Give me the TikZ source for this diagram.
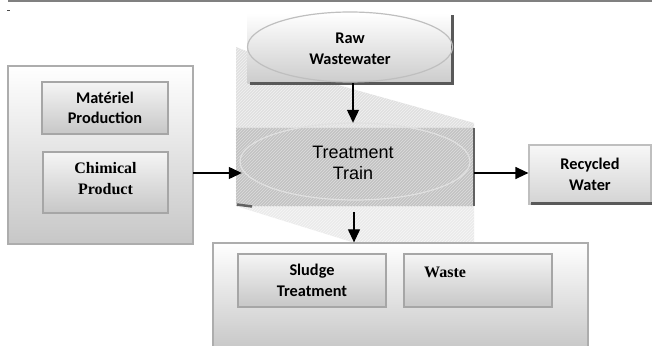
\documentclass[tikz,border=0pt]{standalone}
\usepackage{fontspec}
\setmainfont{Liberation Serif}
\newfontfamily\calbfont{Carlito Bold}
\newfontfamily\arifont{Liberation Sans}
\usetikzlibrary{arrows.meta,patterns}
\tikzset{
  outerbox/.style={draw=black!32, line width=1.3pt, top color=white, bottom color=black!22, inner sep=0pt},
  innerbox/.style={draw=black!35, line width=1.3pt, top color=black!4, bottom color=black!22, inner sep=0pt, align=center},
  calb/.style={font=\calbfont\fontsize{16.3}{20.5}\selectfont},
  timb/.style={font=\bfseries\fontsize{16}{21}\selectfont},
  arib/.style={font=\arifont\fontsize{18}{21.5}\selectfont},
  flow/.style={line width=1.2pt, -{Triangle[length=13pt,width=12pt]}},
  shadowline/.style={draw=black!65, line width=3pt},
}
\begin{document}
\begin{tikzpicture}[x=1pt,y=-1pt]
\useasboundingbox (0,0) rectangle (652,345);
% top rule and dot
\draw[black!50, line width=1.5pt] (8,1) -- (652,1);
\fill[black!70] (7,10) rectangle (9.5,11.5);

% treatment train shape
\fill[black!12] (236,47) -- (320,80) -- (474,123) -- (474,128) -- (236,128) -- cycle;
\fill[pattern=north east lines, pattern color=black!5] (236,47) -- (320,80) -- (474,123) -- (474,128) -- (236,128) -- cycle;
\fill[black!8] (236,206) -- (474,206) -- (474,243) -- (355,243) -- cycle;
\fill[pattern=north east lines, pattern color=black!3] (236,206) -- (474,206) -- (474,243) -- (355,243) -- cycle;
\node[rectangle, minimum width=238pt, minimum height=78pt, inner sep=0pt, fill=black!24] (tt) at (355,167) {};
\fill[pattern=north east lines, pattern color=black!13] (tt.north west) rectangle (tt.south east);
\draw[black!12, line width=1.2pt] (355,161.5) ellipse [x radius=115, y radius=38.5];
\node[arib, align=center] (tttext) at (353,163) {Treatment\\Train};
\draw[black!62, line width=1.5pt] (tt.north east) -- (tt.south east);
\draw[black!62, line width=2.5pt] (237,204.5) -- (252,206.5);

% raw wastewater
\node[rectangle, minimum width=205pt, minimum height=70pt, inner sep=0pt, top color=white, bottom color=black!20] (raw) at (350,48) {};
\draw[shadowline] (250,83.5) -- (452.5,83.5) -- (452.5,15);
\draw[black!25, line width=1.2pt] (350,47) ellipse [x radius=102.5, y radius=35];
\node[calb, align=center] (rawtext) at (350,49) {Raw\\Wastewater};

% left group
\node[outerbox, minimum width=185pt, minimum height=178pt] (left) at (100.5,155) {};
\node[innerbox, calb, minimum width=126pt, minimum height=52pt] (mat) at (105,108) {Matériel\\Production};
\node[innerbox, timb, minimum width=125pt, minimum height=61pt] (chem) at (105.5,182.5) {Chimical\\Product\\[-13pt]};

% recycled water
\node[rectangle, draw=black!25, line width=1.2pt, top color=black!3, bottom color=black!17, inner sep=0pt, minimum width=122pt, minimum height=59pt, calb, align=center] (rw) at (590,174.5) {Recycled\\Water};
\draw[shadowline] (531,203.5) -- (652,203.5);

% bottom group
\node[outerbox, minimum width=375pt, minimum height=107pt] (bot) at (400.5,296.5) {};
\node[innerbox, calb, minimum width=148pt, minimum height=53pt] (sludge) at (312,280.5) {Sludge\\Treatment};
\node[innerbox, minimum width=148pt, minimum height=53pt] (waste) at (478,280.5) {};
\node[timb, anchor=base west, inner sep=0pt] (wastetext) at (424,277.5) {Waste};

% connectors
\coordinate (la) at (193,173);
\draw[flow, shorten >=-6pt] (la) -- (la -| tt.west);
\draw[flow, shorten >=5pt] (raw.south -| 353,0) -- (tt.north -| 353,0);
\draw[flow] (tt.east |- 0,173) -- (rw.west |- 0,173);
\draw[flow, shorten <=6pt] (tt.south -| 354,0) -- (bot.north -| 354,0);
\end{tikzpicture}
\end{document}
